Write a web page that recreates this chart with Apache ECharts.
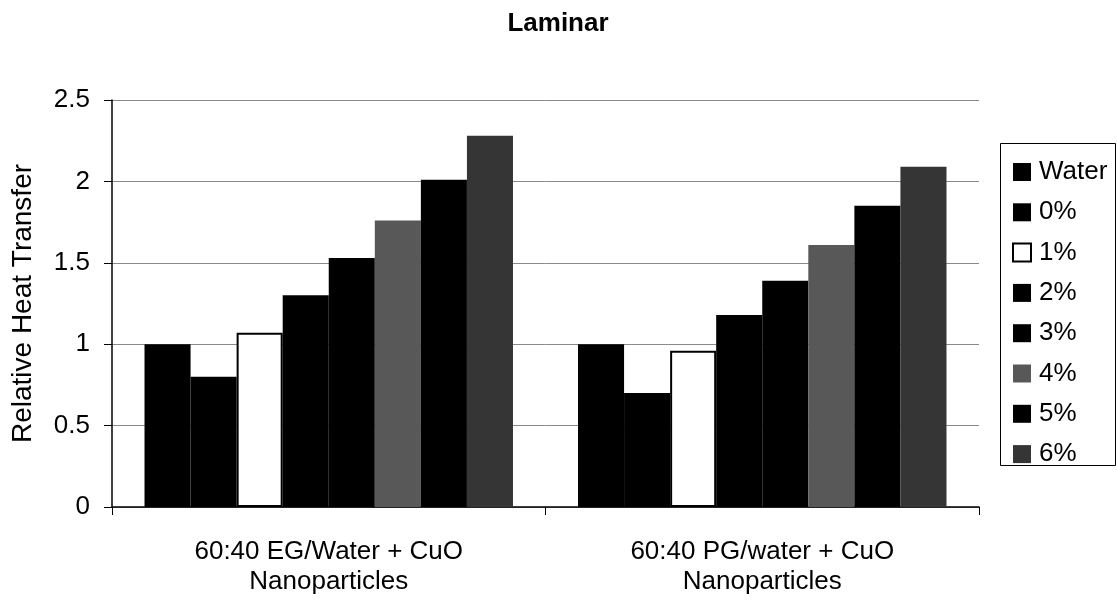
<!DOCTYPE html>
<html>
<head>
<meta charset="utf-8">
<script src="https://cdn.jsdelivr.net/npm/echarts@6/dist/echarts.min.js"></script>
<style>
html,body{margin:0;padding:0;background:#fff;}
#chart{width:1117px;height:602px;}
</style>
</head>
<body>
<div id="chart"></div>
<script>
const titleText = 'Laminar';
const yAxisTitle = 'Relative Heat Transfer';
const categories = ['60:40 EG/Water + CuO\nNanoparticles', '60:40 PG/water + CuO\nNanoparticles'];
const seriesNames = ['Water', '0%', '1%', '2%', '3%', '4%', '5%', '6%'];
const waterVals = [1.00, 1.00];
const pct0Vals = [0.80, 0.70];
const pct1Vals = [1.07, 0.96];
const pct2Vals = [1.30, 1.18];
const pct3Vals = [1.53, 1.39];
const pct4Vals = [1.76, 1.61];
const pct5Vals = [2.01, 1.85];
const pct6Vals = [2.28, 2.09];
const yMin = 0, yMax = 2.5, yInterval = 0.5;

const seriesValues = [waterVals, pct0Vals, pct1Vals, pct2Vals, pct3Vals, pct4Vals, pct5Vals, pct6Vals];
const fills = ['#000000', '#000000', '#ffffff', '#000000', '#000000', '#585858', '#000000', '#353535'];

const chart = echarts.init(document.getElementById('chart'), null, {renderer: 'canvas'});
const FONT = 'Liberation Sans, Arial, sans-serif';

const series = seriesNames.map((n, i) => ({
  name: n,
  type: 'bar',
  data: seriesValues[i],
  barGap: '0%',
  barCategoryGap: '15%',
  itemStyle: {
    color: fills[i],
    borderColor: '#000',
    borderWidth: i === 2 ? 2 : 0
  },
  emphasis: {disabled: true}
}));

chart.setOption({
  animation: false,
  backgroundColor: '#ffffff',
  title: {
    text: titleText,
    left: 553,
    top: 6,
    textAlign: 'center',
    textStyle: {fontFamily: FONT, fontSize: 26, fontWeight: 'bold', color: '#000'}
  },
  grid: {left: 112, right: 138, top: 100, bottom: 95, containLabel: false},
  legend: {
    orient: 'vertical',
    left: 1007,
    top: 154,
    itemWidth: 18,
    itemHeight: 18,
    itemGap: 14.3,
    icon: 'rect',
    textStyle: {fontFamily: FONT, fontSize: 26, color: '#000', padding: [0, 0, 0, 3]},
    data: seriesNames
  },
  graphic: [{
    type: 'rect',
    shape: {x: 1000.5, y: 143.5, width: 115, height: 322},
    style: {fill: 'none', stroke: '#000', lineWidth: 1},
    z: 100
  }],
  xAxis: {
    type: 'category',
    data: categories,
    axisLine: {lineStyle: {color: '#000', width: 1.5}},
    axisTick: {show: true, length: 8, lineStyle: {color: '#000'}},
    axisLabel: {fontFamily: FONT, fontSize: 26, color: '#000', margin: 30, lineHeight: 30, interval: 0}
  },
  yAxis: {
    type: 'value',
    min: yMin,
    max: yMax,
    interval: yInterval,
    name: yAxisTitle,
    nameLocation: 'middle',
    nameGap: 75,
    nameRotate: 90,
    nameTextStyle: {fontFamily: FONT, fontSize: 28, color: '#000'},
    axisLine: {show: true, lineStyle: {color: '#000', width: 1.5}},
    axisTick: {show: true, length: 8, lineStyle: {color: '#000'}},
    axisLabel: {fontFamily: FONT, fontSize: 26, color: '#000', margin: 22,
      formatter: v => String(v)},
    splitLine: {show: true, lineStyle: {color: '#8a8a8a', width: 1}}
  },
  series: series
});
</script>
</body>
</html>
